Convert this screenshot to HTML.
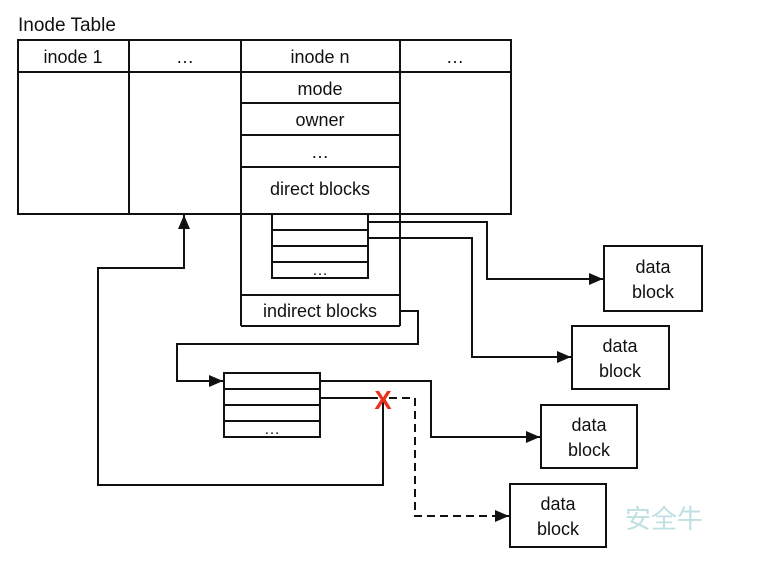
<!DOCTYPE html>
<html><head><style>body{margin:0;background:#fff}svg{display:block}text{font-family:"Liberation Sans",Arial,sans-serif;fill:#111}</style></head>
<body>
<svg width="769" height="565" viewBox="0 0 769 565" xmlns="http://www.w3.org/2000/svg">
<defs><marker id="a" markerWidth="14" markerHeight="12" refX="14" refY="6" orient="auto" markerUnits="userSpaceOnUse"><path d="M0,0 L14,6 L0,12 z" fill="#111"/></marker></defs>
<g stroke="#111" stroke-width="2" fill="none">
<rect x="18" y="40" width="493" height="174"/>
<line x1="18" y1="72" x2="511" y2="72"/>
<line x1="129" y1="40" x2="129" y2="214"/>
<line x1="241" y1="40" x2="241" y2="326"/>
<line x1="400" y1="40" x2="400" y2="326"/>
<line x1="241" y1="326" x2="400" y2="326"/>
<line x1="241" y1="103" x2="400" y2="103"/>
<line x1="241" y1="135" x2="400" y2="135"/>
<line x1="241" y1="167" x2="400" y2="167"/>
<line x1="241" y1="295" x2="400" y2="295"/>
<rect x="272" y="214" width="96" height="64"/>
<line x1="272" y1="230" x2="368" y2="230"/><line x1="272" y1="246" x2="368" y2="246"/><line x1="272" y1="262" x2="368" y2="262"/>
<rect x="224" y="373" width="96" height="64"/>
<line x1="224" y1="389" x2="320" y2="389"/><line x1="224" y1="405" x2="320" y2="405"/><line x1="224" y1="421" x2="320" y2="421"/>
<rect x="604" y="246" width="98" height="65"/>
<rect x="572" y="326" width="97" height="63"/>
<rect x="541" y="405" width="96" height="63"/>
<rect x="510" y="484" width="96" height="63"/>
<polyline points="368,222 487,222 487,279 603,279" marker-end="url(#a)"/>
<polyline points="368,238 472,238 472,357 571,357" marker-end="url(#a)"/>
<polyline points="400,311 418,311 418,344 177,344 177,381 223,381" marker-end="url(#a)"/>
<polyline points="320,381 431,381 431,437 540,437" marker-end="url(#a)"/>
<line x1="320" y1="398" x2="378" y2="398"/>
<polyline points="389,398 415,398 415,516 509,516" stroke-dasharray="8,5" marker-end="url(#a)"/>
<polyline points="383,400 383,485 98,485 98,268 184,268 184,215" marker-end="url(#a)"/>
</g>
<text x="383" y="409" text-anchor="middle" font-size="26" font-weight="bold" style="fill:#e8321e">X</text>
<g font-size="18" text-anchor="middle">
<text x="18" y="31" text-anchor="start" font-size="19">Inode Table</text>
<text x="73" y="63">inode 1</text>
<text x="185" y="63">…</text>
<text x="320" y="63">inode n</text>
<text x="455" y="63">…</text>
<text x="320" y="95">mode</text>
<text x="320" y="126">owner</text>
<text x="320" y="158">…</text>
<text x="320" y="195">direct blocks</text>
<text x="320" y="317">indirect blocks</text>
<text x="320" y="275" font-size="16">…</text>
<text x="272" y="434" font-size="16">…</text>
<text x="653" y="273">data</text><text x="653" y="298">block</text>
<text x="620" y="352">data</text><text x="620" y="377">block</text>
<text x="589" y="431">data</text><text x="589" y="456">block</text>
<text x="558" y="510">data</text><text x="558" y="535">block</text>
</g>
<text x="625" y="528" font-size="26" style="fill:#bfe0e0" font-family="Noto Sans CJK SC,sans-serif">安全牛</text>
</svg>
</body></html>
